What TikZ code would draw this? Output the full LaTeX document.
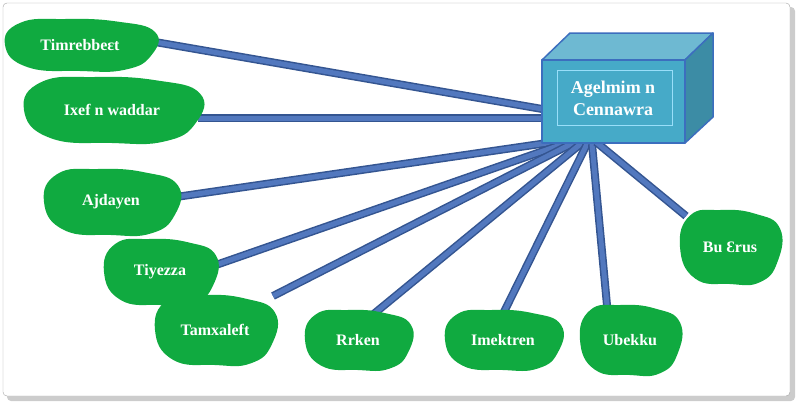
\documentclass[tikz,border=0pt]{standalone}
\usepackage{fontspec}
\setmainfont{Liberation Serif}
\begin{document}
\begin{tikzpicture}[x=1pt,y=-1pt,
  lbl/.style={text=white,font=\bfseries\fontsize{16}{18}\selectfont},
  conn/.style={line width=8pt,draw={rgb,255:red,52;green,85;blue,145}},
  connin/.style={line width=5pt,draw={rgb,255:red,82;green,120;blue,190}},
  blob/.style={fill={rgb,255:red,16;green,170;blue,64},draw=none}]
\useasboundingbox (0,0) rectangle (800,405);
\fill[gray!40,rounded corners=4] (7,7) rectangle (795,401);
\draw[gray!70,fill=white,rounded corners=4] (3,3) rectangle (790,396);
\newcommand{\blobat}[5]{%
  \fill[blob] plot[smooth cycle,tension=0.8] coordinates {
    ({#2-#4},{#3}) ({#2-0.8*#4},{#3-0.85*#5}) ({#2-0.2*#4},{#3-1.0*#5})
    ({#2+0.5*#4},{#3-0.9*#5}) ({#2+#4},{#3-0.5*#5}) ({#2+0.95*#4},{#3+0.4*#5})
    ({#2+0.6*#4},{#3+0.95*#5}) ({#2},{#3+1.0*#5}) ({#2-0.7*#4},{#3+0.85*#5})};
  \coordinate (#1) at (#2,#3);}
% connectors
\coordinate (e1) at (155,42);  \coordinate (s1) at (548,110);
\coordinate (e2) at (198,118); \coordinate (s2) at (548,118);
\coordinate (e3) at (176,197); \coordinate (s3) at (568,140);
\coordinate (e4) at (213,266); \coordinate (s4) at (572,141);
\coordinate (e5) at (273,296); \coordinate (s5) at (577,141);
\coordinate (e6) at (370,317); \coordinate (s6) at (583,142);
\coordinate (e7) at (500,320); \coordinate (s7) at (588,142);
\coordinate (e8) at (608,316); \coordinate (s8) at (592,144);
\coordinate (e9) at (686,216); \coordinate (s9) at (596,142);
\foreach \i in {1,...,9}{\draw[conn] (e\i)--(s\i); \draw[connin] (e\i)--(s\i);}
% blobs
\blobat{b1}{80}{45}{75}{26}
\blobat{b2}{112}{110}{88}{33}
\blobat{b3}{111}{202}{67}{33}
\blobat{b4}{160}{272}{56}{33}
\blobat{b5}{215}{330}{60}{35}
\blobat{b6}{358}{340}{53}{30}
\blobat{b7}{503}{340}{58}{30}
\blobat{b8}{630}{340}{50}{35}
\blobat{b9}{730}{247}{50}{37}
\node[lbl] (t1) at (b1) {Timrebbeɛt};
\node[lbl] (t2) at (b2) {Ixef n waddar};
\node[lbl] (t3) at (b3) {Ajdayen};
\node[lbl] (t4) at (b4) {Tiyezza};
\node[lbl] (t5) at (b5) {Tamxaleft};
\node[lbl] (t6) at (b6) {Rrken};
\node[lbl] (t7) at (b7) {Imektren};
\node[lbl] (t8) at (b8) {Ubekku};
\node[lbl] (t9) at (b9) {Bu Ɛrus};
% box
\begin{scope}[draw={rgb,255:red,60;green,110;blue,190},line width=1.5pt,line join=round]
\filldraw[fill={rgb,255:red,110;green,185;blue,210}] (542,60)--(570,33)--(713,33)--(685,60)--cycle;
\filldraw[fill={rgb,255:red,60;green,140;blue,165}] (685,60)--(713,33)--(713,117)--(685,143)--cycle;
\filldraw[fill={rgb,255:red,70;green,170;blue,200}] (542,60) rectangle (685,143);
\end{scope}
\draw[white!60!cyan,line width=0.4pt] (557,70) rectangle (672,125);
\node[lbl,align=center,font=\bfseries\fontsize{18}{22}\selectfont] (box) at (613,98) {Agelmim n\\Cennawra};
\end{tikzpicture}
\end{document}
